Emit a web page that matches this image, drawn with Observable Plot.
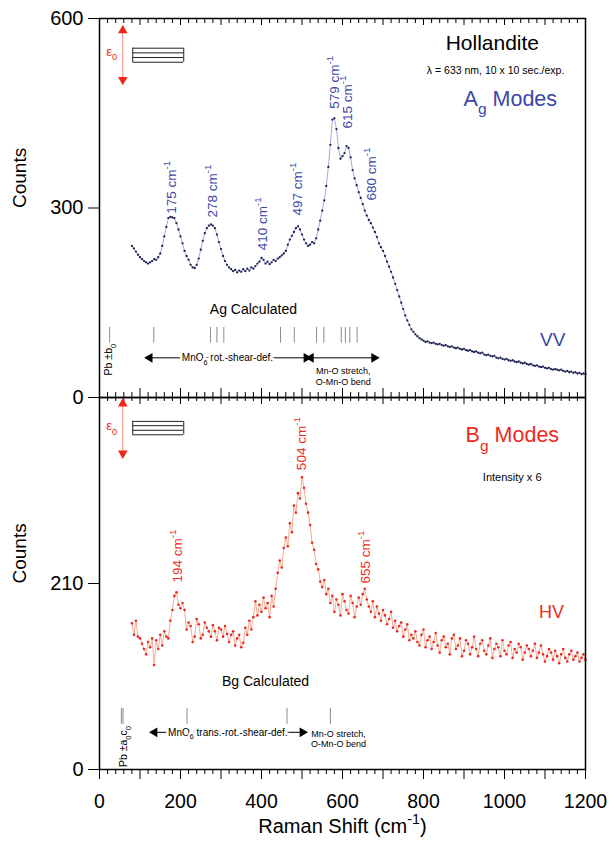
<!DOCTYPE html>
<html><head><meta charset="utf-8">
<script src="https://cdn.jsdelivr.net/npm/d3@7"></script>
<script src="https://cdn.jsdelivr.net/npm/@observablehq/plot@0.6"></script>
<style>
body{margin:0;background:#fff;}
#wrap{position:relative;width:613px;height:845px;overflow:hidden;}
#top,#bot{position:absolute;left:0;}
#top{top:0px}
#bot{top:390px}
</style></head><body><div id="wrap"><div id="top"></div><div id="bot"></div></div>
<script>
// ---- sampling grid of the spectra (Raman shift, cm-1)
const shiftStart = 80, shiftStep = 5;

// ---- Ag modes (VV), counts
const agCounts = [
240,236,231,226,222,219,216,214,212,214,216,219,218,222,228,240,255,270,284,286,
285,284,276,266,255,244,232,224,218,210,206,205,210,220,234,248,260,268,272,274,
272,268,258,246,235,224,216,210,206,203,200,202,198,201,199,203,200,204,201,206,
204,208,212,215,221,218,212,215,211,214,218,216,220,222,225,228,232,242,250,256,
262,268,271,266,258,250,244,240,242,246,244,252,266,280,296,312,335,365,400,440,
442,425,395,378,382,387,398,395,380,360,347,336,325,316,306,296,288,281,276,269,
262,254,244,238,232,224,215,207,199,190,180,170,160,150,140,130,122,115,108,104,
100,97,94,92,90,88,89,87,86,87,85,84,85,83,82,83,81,80,81,79,
78,79,77,76,77,75,74,75,73,72,73,71,70,71,68,67,68,66,65,66,
63,62,63,61,60,61,59,58,59,57,56,57,55,54,55,53,52,53,51,50,
51,49,48,49,47,46,47,45,44,45,44,43,44,42,41,42,40,41,39,40,
38,39,37,38,37];

// ---- Bg modes (HV), counts (intensity x 6)
const bgCounts = [
165,152,168,150,148,142,136,130,144,138,148,118,146,136,152,140,156,150,148,168,
180,196,200,186,182,188,180,158,166,162,144,150,170,164,148,152,166,160,156,150,
163,156,146,160,158,150,162,153,144,152,156,140,148,152,138,143,160,152,168,158,
172,190,174,186,178,194,182,188,172,196,184,204,222,236,228,250,262,252,278,268,
298,290,312,306,330,318,300,290,276,256,248,232,226,212,206,214,198,204,188,196,
178,192,186,174,198,190,180,176,196,188,172,184,194,186,198,204,192,184,178,190,
172,184,176,168,180,174,164,170,178,160,168,156,162,166,150,158,164,146,152,148,
156,144,140,152,158,138,146,150,136,144,154,140,132,146,150,138,142,130,148,152,
136,140,148,128,134,146,142,130,138,150,136,128,142,146,134,130,140,148,126,136,
142,138,128,146,134,130,140,144,126,136,132,142,138,124,132,140,136,128,134,142,
126,132,140,130,122,128,136,132,124,134,128,120,130,136,126,122,130,134,124,128,
132,122,126,130,124];

// ---- peak labels
const agPeaks = [175, 278, 410, 497, 579, 615, 680];
const agPeakLabelX = [178, 279, 402, 489, 580, 612, 672];
const agPeakLabelY = [291, 285, 233, 288, 457, 426, 312];
const bgPeaks = [194, 504, 655];
const bgPeakLabelX = [193, 499, 657];
const bgPeakLabelY = [211, 338, 210];

// ---- calculated mode positions (cm-1)
const agCalculated = [134, 274, 290, 307, 447, 481, 536, 554, 597, 607, 618, 636];
const agPbLine = [25];
const bgCalculated = [216, 463, 570];
const bgPbLines = [54, 58];

// ---- tick labels
const xTickLabels = [0, 200, 400, 600, 800, 1000, 1200];
const agYTicks = [0, 300, 600];
const bgYTicks = [0, 210];

const BLUE = "#3c47a6", RED = "#ee2b22";
const FONT = "Liberation Sans, Arial, sans-serif";

const agData = agCounts.map((v, i) => ({shift: shiftStart + i * shiftStep, counts: v}));
const bgData = bgCounts.map((v, i) => ({shift: shiftStart + i * shiftStep, counts: v}));
const majorX = d3.range(0, 1201, 100);
const minorX = d3.range(0, 1201, 20).filter(d => d % 100 !== 0);

function txt(list, opts) { return Plot.text(list, {x: "x", y: "y", text: "t", fontFamily: FONT, ...opts}); }

function epsilonIcon(y0, y1, boxYs, labelY) {
  return [
    Plot.ruleX([57.5], {y1: y0, y2: y1, stroke: "#f58a7a", strokeWidth: 1}),
    Plot.dot([{x: 57.5, y: y1}], {x: "x", y: "y", symbol: "triangle", r: 3.6, fill: "#f0251c", rotate: 0}),
    Plot.dot([{x: 57.5, y: y0}], {x: "x", y: "y", symbol: "triangle", r: 3.6, fill: "#f0251c", rotate: 180}),
    txt([{x: 30, y: labelY, t: "ε_{0}"}], {fill: "#f0251c", fontSize: 13, textAnchor: "middle"}),
    Plot.ruleY(boxYs, {y: d => d, x1: 82, x2: 208, stroke: "#222", strokeWidth: 1}),
    Plot.ruleX([82, 208], {x: d => d, y1: d3.min(boxYs), y2: d3.max(boxYs), stroke: "#222", strokeWidth: 1})
  ];
}
function arrowHeads(list) {
  return Plot.dot(list, {x: "x", y: "y", rotate: "r", symbol: "triangle", r: 3.6, fill: "black"});
}

// ================= TOP PANEL =================
const fhTop = 400 - 18 - 3;
const topPlot = Plot.plot({
  width: 613, height: 400,
  marginTop: 18, marginBottom: 3, marginLeft: 99, marginRight: 28,
  style: {background: "transparent", overflow: "visible", fontFamily: FONT},
  x: {domain: [0, 1200], axis: null},
  y: {domain: [0, 600]},
  marks: [
    Plot.axisY({ticks: agYTicks, tickSize: 11, tickPadding: 5, fontSize: 20, label: null, fontFamily: FONT}),
    Plot.text(["Counts"], {text: d => d, frameAnchor: "left", rotate: -90, dx: -80, fontSize: 19, fontFamily: FONT}),
    // inner ticks top edge
    Plot.tickX(majorX, {x: d => d, insetBottom: fhTop - 7, strokeWidth: 1}),
    Plot.tickX(minorX, {x: d => d, insetBottom: fhTop - 5, strokeWidth: 1}),
    // inner ticks bottom edge
    Plot.tickX(majorX, {x: d => d, insetTop: fhTop - 9, strokeWidth: 1}),
    Plot.tickX(minorX, {x: d => d, insetTop: fhTop - 5, strokeWidth: 1}),
    Plot.line(agData, {x: "shift", y: "counts", stroke: "#a4aade", strokeWidth: 1}),
    Plot.dot(agData, {x: "shift", y: "counts", r: 1.15, fill: "#1c2050"}),
    Plot.text(agPeaks, {x: (d, i) => agPeakLabelX[i], y: (d, i) => agPeakLabelY[i], text: d => d + " cm^{-1}",
      rotate: -90, textAnchor: "start", fill: BLUE, fontSize: 13.5, fontFamily: FONT}),
    txt([{x: 970, y: 561, t: "Hollandite"}], {fontSize: 21, fill: "black"}),
    txt([{x: 978, y: 517, t: "λ = 633 nm, 10 x 10 sec./exp."}], {fontSize: 10.5, fill: "black"}),
    txt([{x: 899, y: 473, t: "A_{g} Modes"}], {fontSize: 21.5, fill: BLUE, textAnchor: "start"}),
    txt([{x: 1119, y: 91, t: "VV"}], {fontSize: 19, fill: BLUE}),
    txt([{x: 380, y: 139, t: "Ag Calculated"}], {fontSize: 14, fill: "black"}),
    Plot.ruleX(agCalculated, {x: d => d, y1: 86, y2: 111, stroke: "#8c8c8c", strokeWidth: 1}),
    Plot.ruleX(agPbLine, {x: d => d, y1: 86, y2: 111, stroke: "#8c8c8c", strokeWidth: 1}),
    txt([{x: 22, y: 60, t: "Pb ±b_{0}"}], {rotate: -90, fontSize: 10.5, fill: "black"}),
    Plot.ruleY([62.8], {x1: 121, x2: 681, y: d => d, stroke: "black", strokeWidth: 1}),
    arrowHeads([{x: 124, y: 62.8, r: -90}, {x: 511, y: 62.8, r: 90}, {x: 522, y: 62.8, r: -90}, {x: 678, y: 62.8, r: 90}]),
    txt([{x: 316, y: 62.8, t: "MnO_{6} rot.-shear-def."}], {fontSize: 10, fill: "black", stroke: "white", strokeWidth: 5}),
    txt([{x: 602, y: 41, t: "Mn-O stretch,"}, {x: 602, y: 24, t: "O-Mn-O bend"}], {fontSize: 9, fill: "black"}),
    ...epsilonIcon(503, 581, [553, 545.6, 538.2, 530.8], 548),
    Plot.frame({stroke: "black", strokeWidth: 1.5})
  ]
});

// ================= BOTTOM PANEL =================
const fhBot = 455 - 7 - 76;
const botPlot = Plot.plot({
  width: 613, height: 455,
  marginTop: 7, marginBottom: 76, marginLeft: 99, marginRight: 28,
  style: {background: "transparent", overflow: "visible", fontFamily: FONT},
  x: {domain: [0, 1200]},
  y: {domain: [0, 420]},
  marks: [
    Plot.axisY({ticks: bgYTicks, tickSize: 11, tickPadding: 5, fontSize: 20, label: null, fontFamily: FONT}),
    Plot.axisX({ticks: xTickLabels, tickFormat: d => String(d), tickSize: 0, tickPadding: 25, fontSize: 19.5, label: null, fontFamily: FONT}),
    Plot.text(["Counts"], {text: d => d, frameAnchor: "left", rotate: -90, dx: -80, fontSize: 19, fontFamily: FONT}),
    Plot.text(["Raman Shift (cm^{-1})"], {text: d => d, frameAnchor: "bottom", dy: 63, fontSize: 20, fontFamily: FONT}),
    // inner ticks top edge
    Plot.tickX(majorX, {x: d => d, insetBottom: fhBot - 7, strokeWidth: 1}),
    Plot.tickX(minorX, {x: d => d, insetBottom: fhBot - 4, strokeWidth: 1}),
    // outer ticks bottom edge
    Plot.tickX(majorX, {x: d => d, insetTop: fhBot, insetBottom: -10, strokeWidth: 1}),
    Plot.tickX(minorX, {x: d => d, insetTop: fhBot, insetBottom: -5, strokeWidth: 1}),
    Plot.line(bgData, {x: "shift", y: "counts", stroke: "#f8ab95", strokeWidth: 1}),
    Plot.dot(bgData, {x: "shift", y: "counts", r: 1.3, fill: "#e8291f"}),
    Plot.text(bgPeaks, {x: (d, i) => bgPeakLabelX[i], y: (d, i) => bgPeakLabelY[i], text: d => d + " cm^{-1}",
      rotate: -90, textAnchor: "start", fill: RED, fontSize: 13.5, fontFamily: FONT}),
    txt([{x: 904, y: 377, t: "B_{g} Modes"}], {fontSize: 21.5, fill: RED, textAnchor: "start"}),
    txt([{x: 1019, y: 330, t: "Intensity x 6"}], {fontSize: 11, fill: "black"}),
    txt([{x: 1116, y: 178, t: "HV"}], {fontSize: 18, fill: RED}),
    txt([{x: 410, y: 99, t: "Bg Calculated"}], {fontSize: 14, fill: "black"}),
    Plot.ruleX(bgCalculated, {x: d => d, y1: 51, y2: 69, stroke: "#8c8c8c", strokeWidth: 1}),
    Plot.ruleX(bgPbLines, {x: d => d, y1: 51, y2: 69, stroke: "#8c8c8c", strokeWidth: 1}),
    txt([{x: 59, y: 26, t: "Pb ±a_{0}c_{0}"}], {rotate: -90, fontSize: 10.5, fill: "black"}),
    Plot.ruleY([42], {x1: 133, x2: 504, y: d => d, stroke: "black", strokeWidth: 1}),
    arrowHeads([{x: 136, y: 42, r: -90}, {x: 501, y: 42, r: 90}]),
    txt([{x: 317, y: 42, t: "MnO_{6} trans.-rot.-shear-def."}], {fontSize: 10, fill: "black", stroke: "white", strokeWidth: 5}),
    txt([{x: 590, y: 40.5, t: "Mn-O stretch,"}, {x: 590, y: 29, t: "O-Mn-O bend"}], {fontSize: 9, fill: "black"}),
    ...epsilonIcon(357, 413, [393, 388.2, 383, 377.9], 388),
    Plot.frame({stroke: "black", strokeWidth: 1.5})
  ]
});

document.getElementById("top").appendChild(topPlot);
document.getElementById("bot").appendChild(botPlot);

// rich text: ^{..} superscript, _{..} subscript
function richify(root) {
  root.querySelectorAll("text").forEach(t => {
    const els = t.querySelector("tspan") ? [...t.querySelectorAll("tspan")] : [t];
    for (const el of els) {
      const s = el.textContent;
      if (!/[\^_]\{/.test(s)) continue;
      const fs = parseFloat(getComputedStyle(el).fontSize) || 12;
      const parts = [];
      const re = /([\^_])\{([^}]*)\}/g;
      let last = 0, m;
      while ((m = re.exec(s))) {
        if (m.index > last) parts.push({t: s.slice(last, m.index), k: ""});
        parts.push({t: m[2], k: m[1]});
        last = re.lastIndex;
      }
      if (last < s.length) parts.push({t: s.slice(last), k: ""});
      el.textContent = "";
      let cur = 0;
      for (const p of parts) {
        const ts = document.createElementNS("http://www.w3.org/2000/svg", "tspan");
        const shift = p.k === "^" ? -0.42 * fs : p.k === "_" ? 0.38 * fs : 0;
        ts.setAttribute("dy", shift - cur);
        cur = shift;
        if (p.k) ts.setAttribute("font-size", (0.72 * fs).toFixed(1));
        ts.textContent = p.t;
        el.appendChild(ts);
      }
    }
  });
}
richify(topPlot);
richify(botPlot);
</script></body></html>
